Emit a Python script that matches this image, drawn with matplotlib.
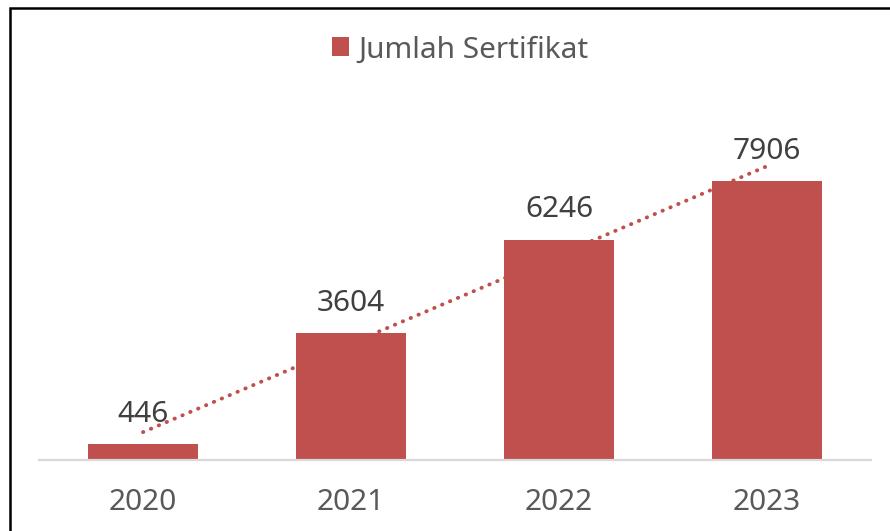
import numpy as np
import matplotlib
matplotlib.use("Agg")
import matplotlib.pyplot as plt
from matplotlib.patches import Rectangle

years = ['2020', '2021', '2022', '2023']
jumlah = [446, 3604, 6246, 7906]
# dotted trend line
trend = [790, 3305, 5815, 8330]

bar_color = '#C0504D'
plt.rcParams['font.family'] = ['Noto Sans', 'DejaVu Sans']

fig = plt.figure(figsize=(8.9, 5.31), dpi=100)
W, H = 890., 531.
# axes box in pixels: left 39, right 871, baseline y=460, top y=72
ax = fig.add_axes([39 / W, (H - 460) / H, 832 / W, 388 / H])

x = np.arange(len(years))
ax.plot(x, trend, color=bar_color, lw=2.8, linestyle=(0, (0.1, 2.1)),
        dash_capstyle='round', zorder=1)
bars = ax.bar(x, jumlah, width=0.53, color=bar_color, zorder=2)

for xi, v in zip(x, jumlah):
    ax.annotate(str(v), (xi, v), xytext=(0, 11), textcoords='offset points',
                ha='center', va='bottom', fontsize=21.5, color='#404040')

ax.set_xlim(-0.5, 3.5)
ax.set_ylim(0, 11000)
ax.set_xticks(x)
ax.set_xticklabels(years, fontsize=21.5, color='#595959')
ax.tick_params(axis='x', length=0, pad=20)
ax.set_yticks([])
for s in ['top', 'right', 'left']:
    ax.spines[s].set_visible(False)
ax.spines['bottom'].set_color('#D9D9D9')
ax.spines['bottom'].set_linewidth(1.6)

# legend at the top
fig.legend([bars], ['Jumlah Sertifikat'], loc='center', bbox_to_anchor=(460 / W, (H - 50) / H),
           frameon=False, fontsize=21.5, labelcolor='#595959', handlelength=0.6,
           handleheight=0.6, handletextpad=0.3)

# outer border (left and top only visible)
fig.add_artist(Rectangle((9.5 / W, -0.1), 2, (H - 8) / H + 0.1, transform=fig.transFigure,
                         fill=False, edgecolor='black', lw=1.8))

fig.savefig('out.png', dpi=100)
